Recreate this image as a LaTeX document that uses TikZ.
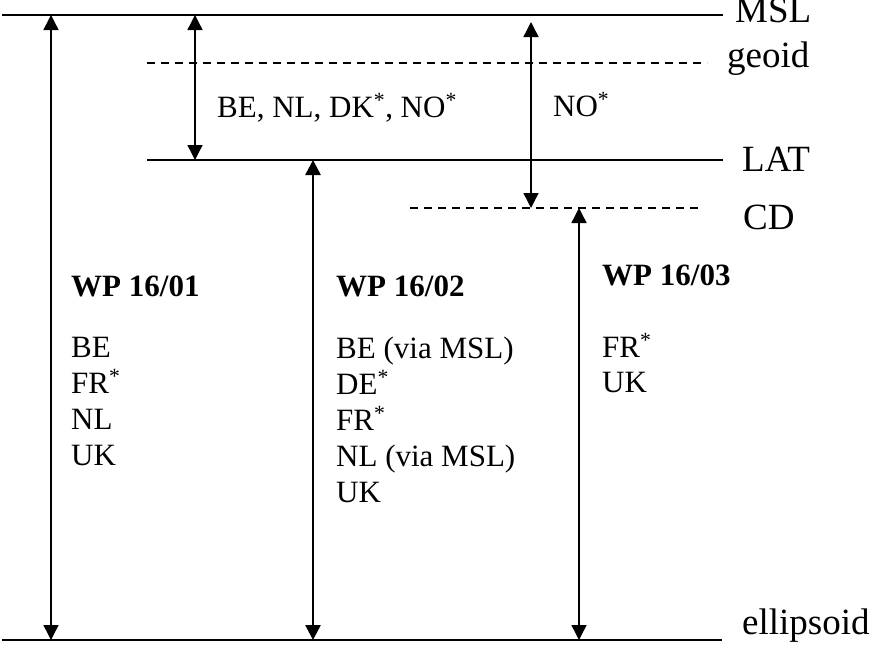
\documentclass[tikz,border=0pt]{standalone}
\usepackage{fontspec}
\setmainfont{Liberation Serif}
\usetikzlibrary{arrows.meta}
\tikzset{
  level/.style={line width=1.8pt},
  dlevel/.style={line width=1.6pt, dash pattern=on 8pt off 6pt},
  dim/.style={line width=1.4pt, {Triangle[length=15pt,width=15pt]}-{Triangle[length=15pt,width=15pt]}},
  dimthick/.style={line width=2.6pt, {Triangle[length=15pt,width=15pt]}-{Triangle[length=15pt,width=15pt]}},
  body/.style={anchor=base west, inner sep=0pt, font=\fontsize{31}{36}\selectfont},
  head/.style={anchor=base west, inner sep=0pt, font=\fontsize{31}{36}\selectfont\bfseries},
  lab/.style={anchor=base west, inner sep=0pt, font=\fontsize{37}{42}\selectfont}
}
\begin{document}
\begin{tikzpicture}[x=1pt,y=-1pt]
\useasboundingbox (0,0) rectangle (872,645);
% level end points
\coordinate (mslL) at (2,15);   \coordinate (mslR) at (723,15);
\coordinate (geoL) at (147,63); \coordinate (geoR) at (707,63);
\coordinate (latL) at (147,160);\coordinate (latR) at (723,160);
\coordinate (cdL) at (410,208); \coordinate (cdR) at (698,208);
\coordinate (ellL) at (2,640);  \coordinate (ellR) at (722,640);
\draw[level] (mslL) -- (mslR);
\draw[dlevel] (geoL) -- (geoR);
\draw[level] (latL) -- (latR);
\draw[dlevel] (cdL) -- (cdR);
\draw[level] (ellL) -- (ellR);
% labels
\node[lab] (tmsl) at (735,22) {MSL};
\node[lab] (tgeo) at (727,67) {geoid};
\node[lab] (tlat) at (742,171) {LAT};
\node[lab] (tcd) at (743,229) {CD};
\node[lab] (tell) at (742,634) {ellipsoid};
% arrow ends
\coordinate (a1t) at (51,15);  \coordinate (a1b) at (51,640);
\coordinate (a2t) at (195,15); \coordinate (a2b) at (195,160);
\coordinate (a3t) at (313,160);\coordinate (a3b) at (313,640);
\coordinate (a4t) at (531,22); \coordinate (a4b) at (531,208);
\coordinate (a5t) at (579,208);\coordinate (a5b) at (579,640);
\draw[dim] (a1t) -- (a1b);
\draw[dim] (a2t) -- (a2b);
\draw[dimthick] (a3t) -- (a3b);
\draw[dim] (a4t) -- (a4b);
\draw[dim] (a5t) -- (a5b);
% texts
\node[body] (t1) at (217,117) {BE, NL, DK\textsuperscript{*}, NO\textsuperscript{*}};
\node[body] (t2) at (553,116) {NO\textsuperscript{*}};
\node[head] (h1) at (71,296) {WP 16/01};
\node[body] (l11) at (71,357) {BE};
\node[body] (l12) at (71,393) {FR\textsuperscript{*}};
\node[body] (l13) at (71,429) {NL};
\node[body] (l14) at (71,465) {UK};
\node[head] (h2) at (336,296) {WP 16/02};
\node[body] (l21) at (336,358) {BE (via MSL)};
\node[body] (l22) at (336,394) {DE\textsuperscript{*}};
\node[body] (l23) at (336,430) {FR\textsuperscript{*}};
\node[body] (l24) at (336,466) {NL (via MSL)};
\node[body] (l25) at (336,502) {UK};
\node[head] (h3) at (602,285) {WP 16/03};
\node[body] (l31) at (602,357) {FR\textsuperscript{*}};
\node[body] (l32) at (602,392) {UK};
\end{tikzpicture}
\end{document}
